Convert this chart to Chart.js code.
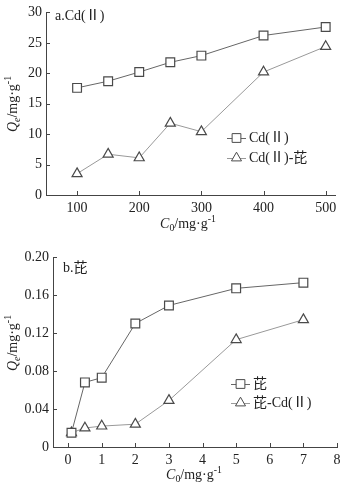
<!DOCTYPE html>
<html>
<head>
<meta charset="utf-8">
<script src="https://cdn.jsdelivr.net/npm/chart.js@4/dist/chart.umd.min.js"></script>
<style>
  html, body { margin: 0; padding: 0; background: #fff; }
  canvas { display: block; }
</style>
</head>
<body>
<canvas id="cdChart" width="348" height="240"></canvas>
<canvas id="pyrChart" width="348" height="247"></canvas>
<script>
// a. Cd(II)
const cdConc = [100, 150, 200, 250, 300, 400, 500];
const cdQe = [17.6, 18.7, 20.2, 21.8, 22.9, 26.2, 27.6];
const cdQeMixed = [3.5, 6.7, 6.1, 11.8, 10.4, 20.2, 24.4];
const cdXTicks = [100, 200, 300, 400, 500];
const cdYTicks = [0, 5, 10, 15, 20, 25, 30];

// b. pyrene
const pyrConc = [0.1, 0.5, 1, 2, 3, 5, 7];
const pyrQe = [0.015, 0.068, 0.073, 0.130, 0.149, 0.167, 0.173];
const pyrQeMixed = [0.015, 0.020, 0.022, 0.024, 0.049, 0.113, 0.134];
const pyrXTicks = [0, 1, 2, 3, 4, 5, 6, 7, 8];
const pyrYTicks = [0, 0.04, 0.08, 0.12, 0.16, 0.20];

const FONT = '"Liberation Serif", "Noto Sans CJK SC", serif';
const AXIS = '#444';
const MARK = '#4a4a4a';

function pts(xs, ys) {
    return xs.map(function(x, i) { return { x: x, y: ys[i] }; });
}

// draws text pieces with italic / sub / sup parts
function drawRich(ctx, parts, x, y, size) {
    let total = 0;
    parts.forEach(function(p) {
        let s = (p.sub || p.sup) ? size * 0.7 : size;
        ctx.font = (p.italic ? 'italic ' : '') + s + 'px ' + FONT;
        p.w = ctx.measureText(p.t).width;
        p.s = s;
        total += p.w;
    });
    let cx = x - total / 2;
    ctx.textBaseline = 'middle';
    ctx.textAlign = 'left';
    parts.forEach(function(p) {
        ctx.font = (p.italic ? 'italic ' : '') + p.s + 'px ' + FONT;
        let dy = p.sub ? size * 0.3 : (p.sup ? -size * 0.35 : 0);
        ctx.fillText(p.t, cx, y + dy);
        cx += p.w;
    });
}

const qeTitle = [{ t: 'Q', italic: true }, { t: 'e', italic: true, sub: true }, { t: '/mg·g' }, { t: '-1', sup: true }];
const c0Title = [{ t: 'C', italic: true }, { t: '0', sub: true }, { t: '/mg·g' }, { t: '-1', sup: true }];

const decor = {
    id: 'decor',
    afterDraw: function(chart) {
        const o = chart.options.plugins.decor;
        const ctx = chart.ctx;
        const xs = chart.scales.x, ys = chart.scales.y;
        const area = chart.chartArea;
        ctx.save();
        ctx.strokeStyle = AXIS;
        ctx.lineWidth = 1;
        // inward ticks
        ctx.beginPath();
        xs.ticks.forEach(function(t) {
            const px = Math.round(xs.getPixelForValue(t.value)) + 0.5;
            ctx.moveTo(px, area.bottom);
            ctx.lineTo(px, area.bottom - 4);
        });
        ys.ticks.forEach(function(t) {
            const py = Math.round(ys.getPixelForValue(t.value)) + 0.5;
            ctx.moveTo(area.left, py);
            ctx.lineTo(area.left + 4, py);
        });
        ctx.stroke();

        ctx.fillStyle = '#222';
        // panel label
        ctx.font = '14px ' + FONT;
        ctx.textAlign = 'left';
        ctx.textBaseline = 'middle';
        ctx.fillText(o.label, o.labelX, o.labelY);

        // axis titles
        drawRich(ctx, c0Title, o.xTitleX, o.xTitleY, 14);
        ctx.save();
        ctx.translate(o.yTitleX, o.yTitleY);
        ctx.rotate(-Math.PI / 2);
        drawRich(ctx, qeTitle, 0, 0, 14);
        ctx.restore();

        // legend
        chart.data.datasets.forEach(function(ds, i) {
            const ly = o.legendY + i * o.legendGap;
            ctx.strokeStyle = ds.borderColor;
            ctx.lineWidth = 1;
            ctx.beginPath();
            ctx.moveTo(o.legendX, ly + 0.5);
            ctx.lineTo(o.legendX + 19, ly + 0.5);
            ctx.stroke();
            ctx.fillStyle = '#fff';
            ctx.strokeStyle = MARK;
            Chart.helpers.drawPoint(ctx, {
                pointStyle: ds.pointStyle,
                radius: ds.pointRadius,
                borderWidth: 1
            }, o.legendX + 9.5, ly);
            ctx.fillStyle = '#222';
            ctx.font = '14px ' + FONT;
            ctx.textAlign = 'left';
            ctx.textBaseline = 'middle';
            ctx.fillText(ds.label, o.legendX + 22, ly);
        });
        ctx.restore();
    }
};

function makeChart(id, xs, s1, s2, labels, xTicks, yTicks, xr, yr, fmt, lay, deco) {
    const ctx = document.getElementById(id).getContext('2d');
    return new Chart(ctx, {
        type: 'scatter',
        data: {
            datasets: [{
                label: labels[0],
                data: pts(xs, s1),
                showLine: true,
                borderColor: '#666',
                borderWidth: 1,
                pointStyle: 'rect',
                pointRadius: 6.2,
                pointBackgroundColor: '#fff',
                pointBorderColor: MARK,
                pointBorderWidth: 1.2
            }, {
                label: labels[1],
                data: pts(xs, s2),
                showLine: true,
                borderColor: '#999',
                borderWidth: 1,
                pointStyle: 'triangle',
                pointRadius: 5.8,
                pointBackgroundColor: '#fff',
                pointBorderColor: MARK,
                pointBorderWidth: 1.2
            }]
        },
        options: {
            responsive: false,
            animation: false,
            layout: { padding: { top: lay.top, right: lay.right, left: 0, bottom: 0 } },
            plugins: {
                legend: { display: false },
                tooltip: { enabled: false },
                decor: deco
            },
            scales: {
                x: {
                    type: 'linear',
                    min: xr[0],
                    max: xr[1],
                    afterBuildTicks: function(s) { s.ticks = xTicks.map(function(v) { return { value: v }; }); },
                    afterFit: function(s) { s.height = lay.xH; },
                    grid: { display: false, drawTicks: false },
                    border: { display: true, color: AXIS, width: 1 },
                    ticks: { color: '#222', padding: 5, font: { family: FONT, size: 14 }, maxRotation: 0 }
                },
                y: {
                    min: yr[0],
                    max: yr[1],
                    afterBuildTicks: function(s) { s.ticks = yTicks.map(function(v) { return { value: v }; }); },
                    afterFit: function(s) { s.width = lay.yW; },
                    grid: { display: false, drawTicks: false },
                    border: { display: true, color: AXIS, width: 1 },
                    ticks: { color: '#222', padding: 4, font: { family: FONT, size: 14 }, callback: fmt }
                }
            }
        },
        plugins: [decor]
    });
}

makeChart('cdChart', cdConc, cdQe, cdQeMixed, ['Cd(Ⅱ)', 'Cd(Ⅱ)-芘'],
    cdXTicks, cdYTicks, [50, 515], [0, 30],
    function(v) { return String(v); },
    { top: 8, right: 13, xH: 45, yW: 46 },
    { label: 'a.Cd(Ⅱ)', labelX: 55, labelY: 16, xTitleX: 188, xTitleY: 224, yTitleX: 13, yTitleY: 104,
      legendX: 227, legendY: 138, legendGap: 20 });

makeChart('pyrChart', pyrConc, pyrQe, pyrQeMixed, ['芘', '芘-Cd(Ⅱ)'],
    pyrXTicks, pyrYTicks, [-0.45, 8], [0, 0.20],
    function(v) { return v === 0 ? '0' : v.toFixed(2); },
    { top: 17, right: 11, xH: 40, yW: 53 },
    { label: 'b.芘', labelX: 63, labelY: 28, xTitleX: 194, xTitleY: 235, yTitleX: 13, yTitleY: 103,
      legendX: 231, legendY: 144, legendGap: 19 });
</script>
</body>
</html>
